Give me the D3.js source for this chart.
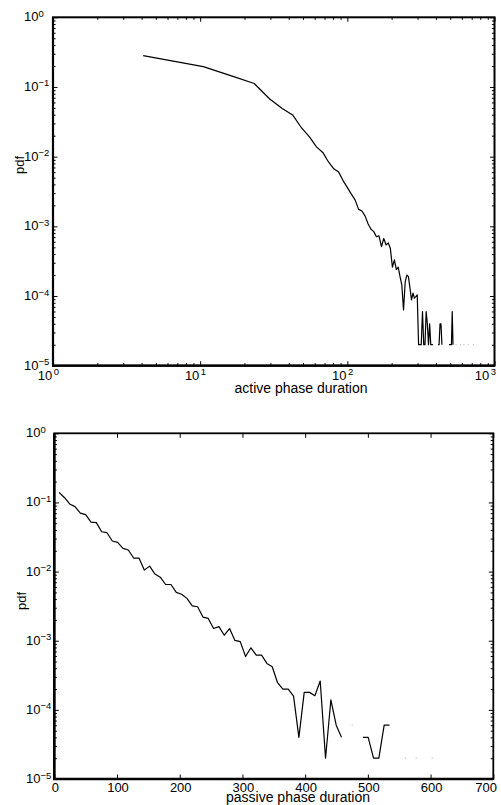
<!DOCTYPE html>
<html>
<head>
<meta charset="utf-8">
<script src="https://cdn.jsdelivr.net/npm/d3@7"></script>
<style>
  html, body { margin: 0; padding: 0; background: #fff; }
  svg { display: block; font-family: "Liberation Sans", Arial, Helvetica, sans-serif; }
</style>
</head>
<body>
<svg id="fig" width="501" height="805"></svg>
<script>
// ---- active phase: bin centres and estimated pdf (null = empty bin) ----
const activeDuration = [
  4.1, 10.5, 16.9, 23.3, 29.7, 36.1, 42.5, 48.9, 55.3, 61.7,
  68.1, 74.5, 80.9, 87.3, 93.7, 100.1, 106.5, 112.9, 119.3, 125.7,
  132.1, 138.5, 144.9, 151.3, 157.7, 164.1, 170.5, 176.9, 183.3, 189.7,
  196.1, 202.5, 208.9, 215.3, 221.7, 228.1, 234.5, 240.9, 247.3, 253.7,
  260.1, 266.5, 272.9, 279.3, 285.7, 292.1, 298.5, 304.9, 311.3, 317.7,
  324.1, 330.5, 336.9, 343.3, 349.7, 356.1, 362.5, 368.9, 375.3, 381.7,
  388.1, 394.5, 400.9, 407.3, 413.7, 420.1, 426.5, 432.9, 439.3, 445.7,
  452.1, 458.5, 464.9, 471.3, 477.7, 484.1, 490.5, 496.9, 503.3, 509.7,
  516.1, 522.5, 535.3, 548.1, 560.9, 586.5, 599.3, 618.5, 631.3, 663.3,
  676.1, 720.9
];
const activePdf = [
  0.281, 0.196, 0.141, 0.112, 0.0673, 0.0491, 0.0397, 0.0258, 0.0192, 0.0138,
  0.0115, 0.0084, 0.0067, 0.0060, 0.0045, 0.0036, 0.0029, 0.0024, 0.00175, 0.00166,
  0.0014, 0.00108, 0.00091, 0.00084, 0.00071, 0.00073, 0.00051, 0.00067, 0.00054, 0.00058,
  0.00048, 0.00026, 0.00033, 0.00024, 0.00026, 0.00019, 0.000144, 0.000063, 0.00016, 0.0002,
  0.00019, 0.00013, 0.000088, 0.00011, 0.000093, 0.000098, 0.000104, 0.00002, 0.00002, 0.00002,
  0.00006, 0.00002, 0.00002, 0.00006, 0.00004, 0.00002, 0.00004, 0.00002, 0.00002, 0.00002,
  null, null, null, null, 0.00002, 0.00002, 0.00004, 0.00004, 0.00002, null,
  null, null, null, null, null, null, 0.00002, 0.00002, 0.00002, 0.00002,
  0.00006, 0.00002, null, 0.00002, null, 0.00002, null, 0.00002, null, 0.00002,
  null, 0.00002
];

// ---- passive phase: bin centres and estimated pdf ----
const passiveDuration = [
  7.5, 16, 24.5, 33, 41.5, 50, 58.5, 67, 75.5, 84,
  92.5, 101, 109.5, 118, 126.5, 135, 143.5, 152, 160.5, 169,
  177.5, 186, 194.5, 203, 211.5, 220, 228.5, 237, 245.5, 254,
  262.5, 271, 279.5, 288, 296.5, 305, 313.5, 322, 330.5, 339,
  347.5, 356, 364.5, 373, 381.5, 390, 398.5, 407, 415.5, 424,
  432.5, 441, 449.5, 458, 466.5, 475, 483.5, 492, 500.5, 509,
  517.5, 526, 534.5, 543, 560, 568.5, 577, 585.5, 602.5
];
const passivePdf = [
  0.140, 0.118, 0.095, 0.087, 0.070, 0.0665, 0.052, 0.051, 0.0377, 0.0365,
  0.0277, 0.0265, 0.0217, 0.0205, 0.0157, 0.0157, 0.0105, 0.0120, 0.0092, 0.0083,
  0.0065, 0.0065, 0.0050, 0.0047, 0.0041, 0.0032, 0.0031, 0.0022, 0.0021, 0.0015,
  0.0016, 0.0012, 0.0015, 0.00101, 0.00097, 0.00059, 0.00079, 0.00062, 0.00062, 0.00047,
  0.00042, 0.000247, 0.0002, 0.0002, 0.000158, 0.00004, 0.000179, 0.000179, 0.00016, 0.000261,
  0.00002, 0.000139, 0.00006, 0.00004, null, 0.00006, null, 0.00004, 0.00004, 0.00002,
  0.00002, 0.00006, 0.00006, null, 0.00002, null, 0.00002, null, 0.00002
];

// ---- tick values and labels ----
const pdfTicks = [1, 1e-1, 1e-2, 1e-3, 1e-4, 1e-5];
const pdfExponents = ["0", "\u22121", "\u22122", "\u22123", "\u22124", "\u22125"];
const activeTicks = [1, 10, 100, 1000];
const activeExponents = ["0", "1", "2", "3"];
const passiveTicks = [0, 100, 200, 300, 400, 500, 600, 700];
const yLabel = "pdf";
const activeLabel = "active phase duration";
const passiveLabel = "passive phase duration";

const svg = d3.select("#fig");

// minor ticks between decades for a log axis
function logMinors(lo, hi) {
  const out = [];
  for (let e = lo; e < hi; e++) for (let m = 2; m <= 9; m++) out.push(m * Math.pow(10, e));
  return out;
}

function drawPanel(cfg) {
  const g = svg.append("g");
  const x = cfg.x, y = cfg.y;
  const [x0, x1] = x.range();
  const [y0, y1] = y.range(); // y0 bottom, y1 top

  // ticks on all four sides, pointing inwards
  const tickStyle = sel => {
    sel.select(".domain").remove();
    sel.selectAll("line").attr("stroke", "#000").attr("stroke-width", 1);
  };
  const addAxis = (axis, tf) => g.append("g").attr("transform", tf).call(axis).call(tickStyle);

  addAxis(d3.axisBottom(x).tickValues(cfg.xMajor).tickSize(-4.5).tickFormat(""), `translate(0,${y0})`);
  addAxis(d3.axisTop(x).tickValues(cfg.xMajor).tickSize(-4.5).tickFormat(""), `translate(0,${y1})`);
  if (cfg.xMinor) {
    addAxis(d3.axisBottom(x).tickValues(cfg.xMinor).tickSize(-2.6).tickFormat(""), `translate(0,${y0})`);
    addAxis(d3.axisTop(x).tickValues(cfg.xMinor).tickSize(-2.6).tickFormat(""), `translate(0,${y1})`);
  }
  addAxis(d3.axisLeft(y).tickValues(pdfTicks).tickSize(-4.5).tickFormat(""), `translate(${x0},0)`);
  addAxis(d3.axisRight(y).tickValues(pdfTicks).tickSize(-4.5).tickFormat(""), `translate(${x1},0)`);
  addAxis(d3.axisLeft(y).tickValues(logMinors(-5, 0)).tickSize(-2.6).tickFormat(""), `translate(${x0},0)`);
  addAxis(d3.axisRight(y).tickValues(logMinors(-5, 0)).tickSize(-2.6).tickFormat(""), `translate(${x1},0)`);

  // data line; empty bins break the line
  const pts = cfg.xs.map((d, i) => ({ x: d, y: cfg.ys[i] }));
  const line = d3.line().defined(d => d.y != null).x(d => x(d.x)).y(d => y(d.y));
  g.append("path").datum(pts)
    .attr("fill", "none").attr("stroke", "#000").attr("stroke-width", 1.2)
    .attr("stroke-linejoin", "round").attr("d", line);

  // single non-empty bins surrounded by empty ones
  const lone = pts.filter((d, i) => d.y != null &&
    (i === 0 || pts[i - 1].y == null) && (i === pts.length - 1 || pts[i + 1].y == null));
  g.selectAll("rect.lone").data(lone).join("rect").attr("class", "lone")
    .attr("x", d => x(d.x) - 0.5).attr("y", d => y(d.y) - 0.5)
    .attr("width", 1).attr("height", 1).attr("fill", "#aaa");

  // frame, with optionally heavier left and bottom edges
  g.append("rect").attr("x", x0).attr("y", y1).attr("width", x1 - x0).attr("height", y0 - y1)
    .attr("fill", "none").attr("stroke", "#000").attr("stroke-width", cfg.frameWidth);
  if (cfg.baseWidth) {
    g.append("path").attr("d", `M${x0},${y1}V${y0}H${x1}`)
      .attr("fill", "none").attr("stroke", "#000").attr("stroke-width", cfg.baseWidth);
  }

  // y tick labels 10^k
  pdfTicks.forEach((t, i) => {
    const tx = g.append("text").attr("x", cfg.yLabelX).attr("y", y(t) + 4)
      .attr("font-size", 13).attr("fill", "#000").text("10");
    tx.append("tspan").attr("font-size", 9.5).attr("dy", -4.5).text(pdfExponents[i]);
  });

  // y title
  g.append("text").attr("transform", `translate(${cfg.yTitle[0]},${cfg.yTitle[1]}) rotate(-90)`)
    .attr("text-anchor", "middle").attr("font-size", 13).attr("fill", "#000").text(yLabel);

  // x title
  g.append("text").attr("x", cfg.xTitle[0]).attr("y", cfg.xTitle[1])
    .attr("text-anchor", "middle").attr("font-size", 14).attr("fill", "#000").text(cfg.xLabel);

  cfg.xTickLabels(g);
}

// upper panel: log-log
const xa = d3.scaleLog().domain([1, 1000]).range([53, 494.5]);
const ya = d3.scaleLog().domain([1e-5, 1]).range([365.7, 17.3]);
drawPanel({
  x: xa, y: ya, xs: activeDuration, ys: activePdf,
  xMajor: activeTicks, xMinor: logMinors(0, 3),
  frameWidth: 2, baseWidth: 2.2, yLabelX: 24, yTitle: [24, 165], xTitle: [301, 392.5], xLabel: activeLabel,
  xTickLabels: g => {
    activeTicks.forEach((t, i) => {
      const tx = g.append("text").attr("x", Math.min(xa(t) + 6, 496)).attr("y", 380)
        .attr("text-anchor", "end").attr("font-size", 13).attr("fill", "#000").text("10");
      tx.append("tspan").attr("font-size", 9.5).attr("dx", 1.5).attr("dy", -5).text(activeExponents[i]);
    });
  }
});

// lower panel: linear x, log y
const xp = d3.scaleLinear().domain([0, 700]).range([54.3, 493.3]);
const yp = d3.scaleLog().domain([1e-5, 1]).range([779, 433.3]);
drawPanel({
  x: xp, y: yp, xs: passiveDuration, ys: passivePdf,
  xMajor: passiveTicks, xMinor: null,
  frameWidth: 1.8, baseWidth: 2.6, yLabelX: 26, yTitle: [25.5, 601], xTitle: [298, 801.5], xLabel: passiveLabel,
  xTickLabels: g => {
    passiveTicks.forEach((t, i) => {
      const last = i === passiveTicks.length - 1;
      g.append("text").attr("x", last ? 497 : xp(t) + 1).attr("y", 791.5)
        .attr("text-anchor", last ? "end" : "middle").attr("font-size", 13).attr("fill", "#000")
        .text(d3.format("d")(t));
    });
  }
});
</script>
</body>
</html>
